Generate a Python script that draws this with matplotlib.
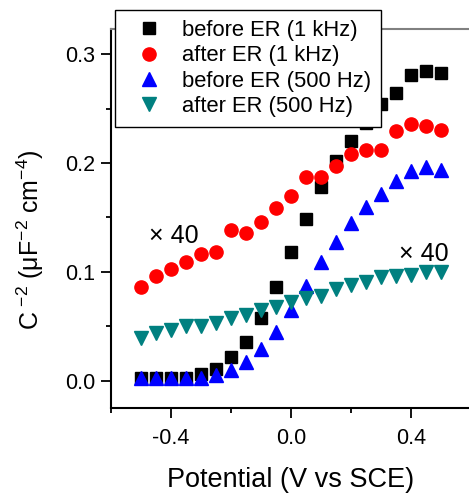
import numpy as np
import matplotlib
matplotlib.use("Agg")
import matplotlib.pyplot as plt

plt.rcParams['font.family'] = ['Liberation Sans', 'DejaVu Sans']
plt.rcParams['mathtext.fontset'] = 'custom'
plt.rcParams['mathtext.rm'] = 'Liberation Sans'

potential = [-0.50, -0.45, -0.40, -0.35, -0.30, -0.25, -0.20, -0.15, -0.10, -0.05,
             0.00, 0.05, 0.10, 0.15, 0.20, 0.25, 0.30, 0.35, 0.40, 0.45, 0.50]

before_1k = [0.003, 0.003, 0.003, 0.003, 0.006, 0.011, 0.022, 0.0355, 0.0575, 0.0865,
             0.118, 0.149, 0.178, 0.202, 0.220, 0.237, 0.254, 0.264, 0.281, 0.284, 0.283]
after_1k = [0.086, 0.096, 0.1025, 0.109, 0.1165, 0.118, 0.1385, 0.136, 0.146, 0.159,
            0.170, 0.1875, 0.1875, 0.1975, 0.208, 0.212, 0.212, 0.229, 0.2355, 0.234, 0.230]
before_500 = [0.0025, 0.0025, 0.0025, 0.0025, 0.003, 0.0055, 0.0095, 0.017, 0.029, 0.0447,
              0.065, 0.0875, 0.1095, 0.127, 0.145, 0.160, 0.1716, 0.183, 0.1927, 0.196, 0.1936]
after_500 = [0.039, 0.0437, 0.0462, 0.0505, 0.0505, 0.0535, 0.0575, 0.060, 0.065, 0.068,
             0.0728, 0.0758, 0.078, 0.084, 0.088, 0.091, 0.0957, 0.0963, 0.0972, 0.0997, 0.1003]

fig = plt.figure(figsize=(4.69, 4.94), dpi=100)
ax = fig.add_axes([0.2367, 0.174, 0.7675, 0.7673])

ax.plot(potential, before_1k, 's', color='black', markersize=8, label='before ER (1 kHz)')
ax.plot(potential, after_1k, 'o', color='red', markersize=9.5, label='after ER (1 kHz)')
ax.plot(potential, before_500, '^', color='blue', markersize=10, label='before ER (500 Hz)')
ax.plot(potential, after_500, 'v', color='#008080', markersize=10, label='after ER (500 Hz)')

ax.text(-0.475, 0.133, '\u00d7 40', fontsize=18, ha='left', va='center')
ax.text(0.36, 0.116, '\u00d7 40', fontsize=18, ha='left', va='center')

ax.set_xlim(-0.6, 0.6)
ax.set_ylim(-0.025, 0.323)
ax.set_xticks([-0.4, 0.0, 0.4])
ax.set_xticks([-0.6, -0.2, 0.2, 0.6], minor=True)
ax.set_yticks([0.0, 0.1, 0.2, 0.3])
ax.set_yticks([0.05, 0.15, 0.25], minor=True)
ax.xaxis.set_major_formatter(matplotlib.ticker.FormatStrFormatter('%.1f'))
ax.yaxis.set_major_formatter(matplotlib.ticker.FormatStrFormatter('%.1f'))
ax.tick_params(which='major', direction='out', length=7.5, width=1.3, labelsize=15.5)
ax.tick_params(axis='x', which='major', pad=7)
ax.tick_params(axis='y', which='major', pad=4)
ax.tick_params(which='minor', direction='out', length=3.8, width=1.3)

for s in ['left', 'bottom']:
    ax.spines[s].set_linewidth(1.5)
ax.spines['top'].set_color('gray')
ax.spines['top'].set_linewidth(1.5)
ax.spines['right'].set_visible(False)

ax.set_xlabel('Potential (V vs SCE)', fontsize=19.5, labelpad=13)
ax.set_ylabel('C$^{\\ \\mathrm{-2}}$ (\u03bcF$^{\\mathrm{-2}}$ cm$^{\\mathrm{-4}}$)', fontsize=18)
ax.yaxis.set_label_coords(-0.18, 0.443)

leg = ax.legend(loc='upper left', bbox_to_anchor=(0.012, 1.05), fontsize=15.8, frameon=True,
                fancybox=False, edgecolor='black', framealpha=1, labelspacing=0.2,
                handlelength=2.2, handletextpad=0.4, borderpad=0.45, borderaxespad=0)
leg.get_frame().set_linewidth(1.0)

fig.savefig('out.png', dpi=100)
